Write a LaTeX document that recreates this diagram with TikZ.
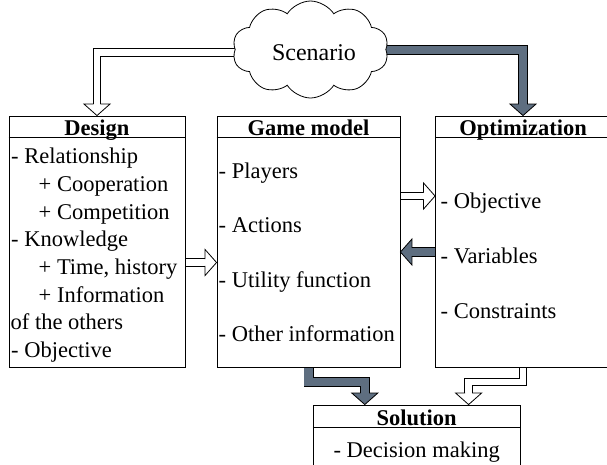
\documentclass[tikz,border=0pt]{standalone}
\usepackage{fontspec}
\setmainfont{Liberation Serif}
\usetikzlibrary{calc,shapes.symbols}
\definecolor{slate}{RGB}{94,110,128}
\pgfdeclarelayer{bg}
\pgfsetlayers{bg,main}

\newcommand\bodyfont{\fontsize{22.5}{27}\selectfont}
\newcommand\titlefont{\fontsize{22.5}{27}\selectfont\bfseries}
\newcommand\cloudfont{\fontsize{24}{28}\selectfont}

% arrow head of a block arrow: base point, tip, fill colour, half inner shaft width
\newcommand\blockhead[4]{%
  \fill[#3] ($(#1)!13pt!90:(#2)$) -- (#2) -- ($(#1)!13pt!-90:(#2)$) -- cycle;
  \draw[headline] ($(#1)!#4!90:(#2)$) -- ($(#1)!13pt!90:(#2)$) -- (#2)
    -- ($(#1)!13pt!-90:(#2)$) -- ($(#1)!#4!-90:(#2)$);
}

\tikzset{
  box/.style={draw=black, line width=0.9pt, inner sep=0pt, rectangle},
  sepline/.style={line width=0.9pt},
  body/.style={inner sep=0pt, anchor=base west, font=\bodyfont},
  ttl/.style={inner sep=0pt, anchor=base, font=\titlefont},
  hollowshaft/.style={line width=0.8pt, double=white, double distance=6.8pt, line join=miter},
  darkshaft/.style={line width=0.8pt, double=slate, double distance=8.4pt, line join=miter},
  headline/.style={line width=0.8pt, line join=miter},
}

\begin{document}
\begin{tikzpicture}[x=1pt,y=-1pt]
\useasboundingbox (0,0) rectangle (607,464);

% cloud
\node[cloud, draw, fill=white, line width=0.8pt, cloud puffs=10, cloud puff arc=115,
      aspect=1.45, minimum width=156pt, minimum height=97pt, inner sep=0pt] (cloud) at (310.5,49.5) {};
\node[inner sep=0pt, anchor=base, font=\cloudfont] (scen) at (314,60.5) {Scenario};

% boxes
\node[box, minimum width=176pt, minimum height=251.5pt] (design) at (97,241.75) {};
\node[box, minimum width=183pt, minimum height=251.5pt] (game) at (308.5,241.75) {};
\node[box, minimum width=175pt, minimum height=251.5pt] (opt) at (523,241.75) {};
\node[box, minimum width=206.7pt, minimum height=80pt] (sol) at (416.7,445) {};

% title rules
\draw[sepline] ($(design.north west)+(0,22)$) -- ($(design.north east)+(0,22)$);
\draw[sepline] ($(game.north west)+(0,22)$) -- ($(game.north east)+(0,22)$);
\draw[sepline] ($(opt.north west)+(0,22)$) -- ($(opt.north east)+(0,22)$);
\draw[sepline] ($(sol.north west)+(0,23.3)$) -- ($(sol.north east)+(0,23.3)$);

% titles
\node[ttl] (designT) at ($(design.north)+(0,20.3)$) {Design};
\node[ttl] (gameT) at ($(game.north)+(0,20.3)$) {Game model};
\node[ttl] (optT) at ($(opt.north)+(0,20.3)$) {Optimization};
\node[ttl] (solT) at ($(sol.north)+(0,21)$) {Solution};

% design contents
\node[body] (d1) at (11,163.6) {- Relationship};
\node[body] (d2) at (38.5,191.3) {+ Cooperation};
\node[body] (d3) at (38.5,219.0) {+ Competition};
\node[body] (d4) at (11,246.7) {- Knowledge};
\node[body] (d5) at (38.5,274.4) {+ Time, history};
\node[body] (d6) at (38.5,302.1) {+ Information};
\node[body] (d7) at (10.5,329.8) {of the others};
\node[body] (d8) at (11,357.5) {- Objective};

% game model contents
\node[body] (g1) at (218.5,178.3) {- Players};
\node[body] (g2) at (218.5,232.8) {- Actions};
\node[body] (g3) at (218.5,287.3) {- Utility function};
\node[body] (g4) at (218.5,341.8) {- Other information};

% optimization contents
\node[body] (o1) at (440.5,208.3) {- Objective};
\node[body] (o2) at (440.5,263.3) {- Variables};
\node[body] (o3) at (440.5,318.3) {- Constraints};

% solution contents
\node[inner sep=0pt, anchor=base, font=\bodyfont] (s1) at (416.7,457) {- Decision making};

% helper coordinates
\coordinate (yA) at (0,262.5);
\coordinate (yB) at (0,196);
\coordinate (yC) at (0,252);
\coordinate (solL) at ($(sol.north west)!0.5!(sol.north)$);
\coordinate (solR) at ($(sol.north)!0.5!(sol.north east)$);

\coordinate (c1s) at ($(cloud.center)+(-50,3)$);
\coordinate (c1b) at ($(design.north)+(0,-11.5)$);
\coordinate (c2s) at ($(cloud.center)+(50,0.5)$);
\coordinate (c2b) at ($(opt.north)+(0,-11.5)$);

\coordinate (a2s) at (design.east |- yA);
\coordinate (a2t) at (game.west |- yA);
\coordinate (a2b) at ($(a2t)+(-11.5,0)$);
\coordinate (a3s) at (game.east |- yB);
\coordinate (a3t) at (opt.west |- yB);
\coordinate (a3b) at ($(a3t)+(-11.5,0)$);
\coordinate (a4s) at (opt.west |- yC);
\coordinate (a4t) at (game.east |- yC);
\coordinate (a4b) at ($(a4t)+(11.5,0)$);

\coordinate (b1b) at ($(solL)+(0,-11.5)$);
\coordinate (b2b) at ($(solR)+(0,-11.5)$);

\begin{pgfonlayer}{bg}
  % scenario to design and optimization
  \draw[hollowshaft] (c1s) -| (c1b);
  \blockhead{c1b}{design.north}{white}{3.4pt}
  \draw[darkshaft] (c2s) -| (c2b);
  \blockhead{c2b}{opt.north}{slate}{4.2pt}
  % between the boxes
  \draw[hollowshaft] (a2s) -- (a2b);
  \blockhead{a2b}{a2t}{white}{3.4pt}
  \draw[hollowshaft] (a3s) -- (a3b);
  \blockhead{a3b}{a3t}{white}{3.4pt}
  \draw[darkshaft] (a4s) -- (a4b);
  \blockhead{a4b}{a4t}{slate}{4.2pt}
  % down to the solution
  \draw[darkshaft] (game.south) -- ++(0,13.8) -| (b1b);
  \blockhead{b1b}{solL}{slate}{4.2pt}
  \draw[hollowshaft] (opt.south) -- ++(0,14) -| (b2b);
  \blockhead{b2b}{solR}{white}{3.4pt}
\end{pgfonlayer}
\end{tikzpicture}
\end{document}
